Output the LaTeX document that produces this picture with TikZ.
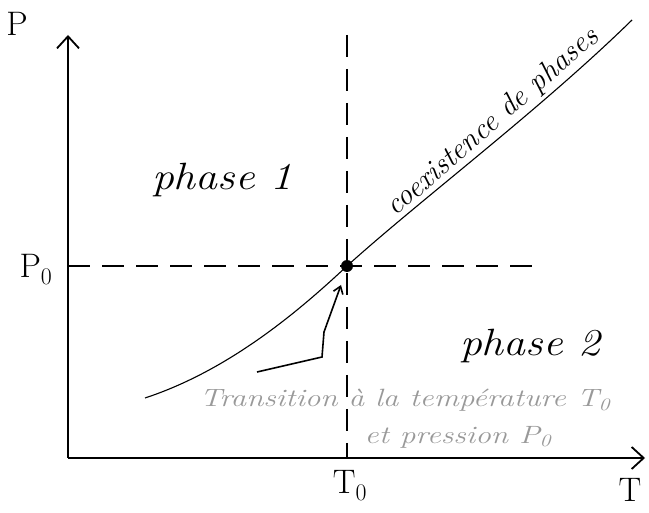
\documentclass[tikz,border=0pt]{standalone}
\usetikzlibrary{arrows.meta}
\begin{document}
\begin{tikzpicture}[x=1pt,y=-1pt,
  axis/.style={line width=1.8pt,-{Straight Barb[length=12pt,width=22pt,line width=1.8pt]}},
  guide/.style={line width=1.5pt,dash pattern=on 22pt off 12pt},
  lbl/.style={font=\fontsize{34}{36}\selectfont},
  phaselbl/.style={font=\itshape\fontsize{38}{40}\selectfont,xscale=1.15},
  note/.style={text=gray!80,font=\itshape\fontsize{25}{27}\selectfont,xscale=1.25}]
\useasboundingbox (0,0) rectangle (649,513);
\coordinate (O) at (68,458);
\coordinate (Ytop) at (68,35);
\coordinate (Xend) at (645,458);
\coordinate (C) at (347,266);
\coordinate (Hend) at (540,266);
\coordinate (Vtop) at (347,35);
\coordinate (Vbot) at (347,458);
\coordinate (Cs) at (145,398);
\coordinate (Ce) at (632,20);
\coordinate (As) at (257,372);
\coordinate (A1) at (322,357);
\coordinate (A2) at (324,332);
\coordinate (Ae) at (341,285);
\draw[axis] (O) -- (Ytop);
\draw[axis] (O) -- (Xend);
\draw[guide] (O |- C) -- (Hend);
\draw[guide] (Vtop) -- (Vbot);
\draw[line width=1.1pt] (Cs) .. controls (230,370) and (300,310) .. (C) .. controls (420,200) and (540,110) .. (Ce);
\fill (C) circle (6pt);
\draw[line width=1.6pt,-{Straight Barb[length=7pt,width=10pt,line width=1.6pt]}] (As) -- (A1) -- (A2) -- (Ae);
\node[lbl] (P) at (17,24) {P};
\node[lbl] (P0) at (36,270) {P\textsubscript{0}};
\node[lbl] (T0) at (350,486) {T\textsubscript{0}};
\node[lbl] (T) at (630,490) {T};
\node[phaselbl] (ph1) at (222,180) {phase 1};
\node[phaselbl] (ph2) at (530,346) {phase 2};
\node[font=\itshape\fontsize{30}{32}\selectfont,rotate=41,anchor=base] (coex) at (498,128) {coexistence de phases};
\node[note] (n1) at (405,400) {Transition à la température T\textsubscript{0}};
\node[note] (n2) at (458,437) {et pression P\textsubscript{0}};
\end{tikzpicture}
\end{document}
